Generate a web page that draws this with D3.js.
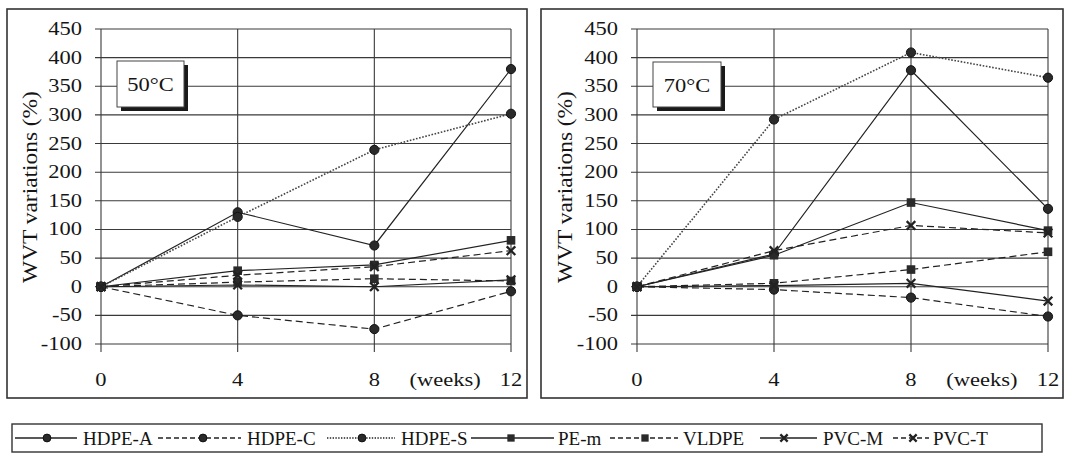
<!DOCTYPE html>
<html><head><meta charset="utf-8">
<script src="https://cdn.jsdelivr.net/npm/d3@7"></script>
<style>
html,body{margin:0;padding:0;background:#fff;}
</style></head>
<body>
<svg id="c" width="1071" height="456" font-family="Liberation Serif, Times New Roman, Times, DejaVu Serif, serif"></svg>
<script>
// ---- data ----
const weeks = [0, 4, 8, 12];
const xTickLabels = ["0", "4", "8", "12"];
const yTicks = [-100, -50, 0, 50, 100, 150, 200, 250, 300, 350, 400, 450];
const seriesNames = ["HDPE-A", "HDPE-C", "HDPE-S", "PE-m", "VLDPE", "PVC-M", "PVC-T"];
const seriesDash = ["solid", "dashed", "dotted", "solid", "dashed", "solid", "dashed"];
const seriesMarker = ["circle", "circle", "circle", "square", "square", "x", "x"];
const panelTitles = ["50°C", "70°C"];

// 50°C
const hdpeA_50 = [0, 130, 72, 380];
const hdpeC_50 = [0, -50, -74, -8];
const hdpeS_50 = [0, 122, 239, 302];
const pem_50   = [0, 28, 38, 81];
const vldpe_50 = [0, 8, 14, 10];
const pvcm_50  = [0, 3, 0, 12];
const pvct_50  = [0, 20, 35, 63];
// 70°C
const hdpeA_70 = [0, 57, 378, 136];
const hdpeC_70 = [0, -5, -19, -52];
const hdpeS_70 = [0, 292, 409, 365];
const pem_70   = [0, 55, 147, 98];
const vldpe_70 = [0, 6, 30, 61];
const pvcm_70  = [0, 2, 6, -25];
const pvct_70  = [0, 63, 107, 94];

const panelData = [
  [hdpeA_50, hdpeC_50, hdpeS_50, pem_50, vldpe_50, pvcm_50, pvct_50],
  [hdpeA_70, hdpeC_70, hdpeS_70, pem_70, vldpe_70, pvcm_70, pvct_70]
];

// ---- layout ----
const FONT = "'Liberation Serif', 'Times New Roman', Times, 'DejaVu Serif', serif";
const svg = d3.select("#c");
const ink = "#222";
const textCol = "#151515";
const gridCol = "#3a3a3a";
const panels = [
  {frame: [7, 9, 527, 398], x0: 101, x1: 511, titleX: 30, box: [117, 61, 184, 107]},
  {frame: [541, 9, 1063, 398], x0: 637, x1: 1048, titleX: 565, box: [653, 62, 721, 107]}
];
const yTop = 29, yBot = 344;
const dashMap = {solid: null, dashed: "7,4", dotted: "1.6,1.6"};
const legendDashMap = {solid: null, dashed: "5,3", dotted: "1.4,1.4"};

function txt(g) {
  return g.append("text").style("font-family", FONT).attr("fill", textCol);
}

function drawMarker(g, type, cx, cy, s) {
  if (type === "circle") {
    g.append("circle").attr("cx", cx).attr("cy", cy).attr("r", 4.6 * s).attr("fill", "#2a2a2a").attr("stroke", "#111").attr("stroke-width", 1);
  } else if (type === "square") {
    const h = 4.3 * s;
    g.append("rect").attr("x", cx - h).attr("y", cy - h).attr("width", 2 * h).attr("height", 2 * h).attr("fill", "#2a2a2a");
  } else {
    const h = 4.3 * s;
    g.append("path").attr("d", `M${cx - h},${cy - h}L${cx + h},${cy + h}M${cx - h},${cy + h}L${cx + h},${cy - h}`)
      .attr("stroke", "#222").attr("stroke-width", 2.3).attr("fill", "none");
  }
}

panels.forEach((p, pi) => {
  const g = svg.append("g");
  const x = d3.scaleLinear().domain([0, 12]).range([p.x0, p.x1]);
  const y = d3.scaleLinear().domain([-100, 450]).range([yBot, yTop]);
  const [fx0, fy0, fx1, fy1] = p.frame;
  g.append("rect").attr("x", fx0).attr("y", fy0).attr("width", fx1 - fx0).attr("height", fy1 - fy0)
    .attr("fill", "none").attr("stroke", "#333").attr("stroke-width", 1.6);

  // horizontal gridlines
  g.selectAll(".hg").data(yTicks).join("line")
    .attr("x1", p.x0 - 6).attr("x2", p.x1).attr("y1", d => y(d)).attr("y2", d => y(d))
    .attr("stroke", gridCol).attr("stroke-width", 1.1);
  // vertical gridlines
  g.selectAll(".vg").data(weeks).join("line")
    .attr("x1", d => x(d)).attr("x2", d => x(d)).attr("y1", yTop).attr("y2", yBot + 8)
    .attr("stroke", gridCol).attr("stroke-width", 1.1);

  // y tick labels
  yTicks.forEach(d => {
    txt(g).attr("transform", `translate(${p.x0 - 19},${y(d) + 6}) scale(1.25,1)`)
      .attr("text-anchor", "end").attr("font-size", 18).text(d);
  });
  // x tick labels
  weeks.forEach((d, i) => {
    txt(g).attr("transform", `translate(${x(d)},386) scale(1.25,1)`)
      .attr("text-anchor", "middle").attr("font-size", 18).text(xTickLabels[i]);
  });
  txt(g).attr("transform", `translate(${x(10.07)},386) scale(1.25,1)`)
    .attr("text-anchor", "middle").attr("font-size", 18).text("(weeks)");

  // y title
  txt(g).attr("transform", `translate(${p.titleX + 7},187) rotate(-90) scale(1.17,1)`)
    .attr("text-anchor", "middle").attr("font-size", 20).text("WVT variations (%)");

  // series lines
  const line = d3.line().x((d, i) => x(weeks[i])).y(d => y(d));
  panelData[pi].forEach((vals, si) => {
    g.append("path").attr("d", line(vals)).attr("fill", "none")
      .attr("stroke", seriesDash[si] === "dotted" ? "#444" : ink)
      .attr("stroke-width", seriesDash[si] === "dotted" ? 1.6 : 1.2)
      .attr("stroke-dasharray", dashMap[seriesDash[si]]);
  });
  panelData[pi].forEach((vals, si) => {
    vals.forEach((v, i) => drawMarker(g, seriesMarker[si], x(weeks[i]), y(v), 1));
  });

  // temperature box with shadow
  const [bx0, by0, bx1, by1] = p.box;
  g.append("rect").attr("x", bx0 + 4).attr("y", by0 + 4).attr("width", bx1 - bx0).attr("height", by1 - by0).attr("fill", "#1a1a1a");
  g.append("rect").attr("x", bx0).attr("y", by0).attr("width", bx1 - bx0).attr("height", by1 - by0)
    .attr("fill", "#fff").attr("stroke", "#444").attr("stroke-width", 1);
  txt(g).attr("transform", `translate(${(bx0 + bx1) / 2},${(by0 + by1) / 2 + 7}) scale(1.25,1)`)
    .attr("text-anchor", "middle").attr("font-size", 18).text(panelTitles[pi]);
});

// ---- legend ----
const lg = svg.append("g");
lg.append("rect").attr("x", 12).attr("y", 424).attr("width", 1030).attr("height", 28)
  .attr("fill", "#fff").attr("stroke", "#333").attr("stroke-width", 1.4);
const legendPos = [
  [15, 47, 77, 83], [158, 203, 241, 247], [327, 362, 395, 401], [471, 511, 554, 558],
  [610, 645, 678, 683], [760, 784, 817, 823], [893, 913, 929, 933]
];
seriesNames.forEach((name, si) => {
  const [l0, m, l1, t] = legendPos[si];
  const ly = 438;
  lg.append("line").attr("x1", l0).attr("x2", l1).attr("y1", ly).attr("y2", ly)
    .attr("stroke", ink).attr("stroke-width", seriesDash[si] === "dotted" ? 1.4 : 1.3)
    .attr("stroke-dasharray", legendDashMap[seriesDash[si]]);
  drawMarker(lg, seriesMarker[si], m, ly, 0.85);
  txt(lg).attr("x", t).attr("y", 445).attr("font-size", 19).text(name);
});
</script>
</body></html>
